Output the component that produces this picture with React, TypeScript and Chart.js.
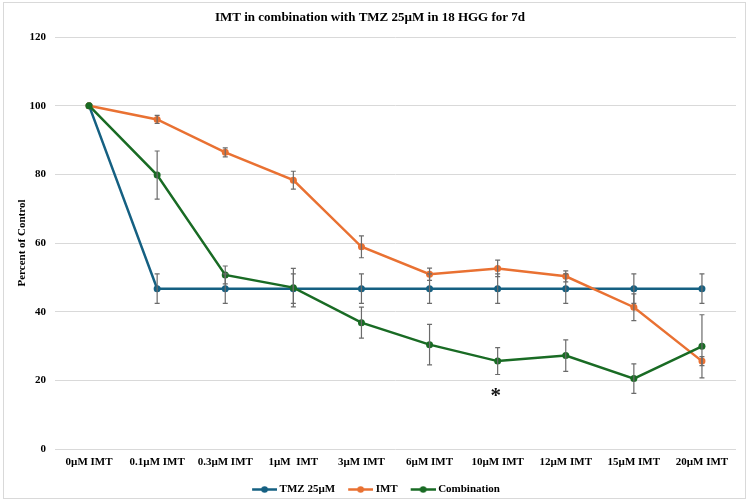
import { useEffect, useRef } from 'react';
import { Chart, registerables } from 'chart.js';

Chart.register(...registerables);

// Treatment concentrations along the x axis
const categories = [
  '0µM IMT',
  '0.1µM IMT',
  '0.3µM IMT',
  '1µM  IMT',
  '3µM IMT',
  '6µM IMT',
  '10µM IMT',
  '12µM IMT',
  '15µM IMT',
  '20µM IMT',
];

// Percent of control, with ± error for each point
const tmzValues = [100, 46.7, 46.7, 46.7, 46.7, 46.7, 46.7, 46.7, 46.7, 46.7];
const tmzErrors = [0, 4.3, 4.3, 4.3, 4.3, 4.3, 4.3, 4.3, 4.3, 4.3];

const imtValues = [100, 96.0, 86.4, 78.3, 58.9, 50.9, 52.6, 50.3, 41.3, 25.6];
const imtErrors = [0, 1.2, 1.3, 2.6, 3.2, 1.8, 2.4, 1.6, 3.9, 1.3];

const comboValues = [100, 79.8, 50.7, 47.0, 36.8, 30.4, 25.6, 27.2, 20.5, 29.9];
const comboErrors = [0, 7.0, 2.6, 5.6, 4.5, 5.9, 3.9, 4.6, 4.3, 9.2];

// Significance marker: category index and the value it sits at
const markerIndex = [6];
const markerValue = [17];

const yTicks = { min: 0, max: 120, step: 20 };

const BLUE = '#156082';
const ORANGE = '#E97132';
const GREEN = '#196B24';
const SERIF = '"Liberation Serif", "Times New Roman", serif';

// Legend key: a short line with a dot, with blank room on the left for item spacing
function legendSwatch(color: string): HTMLCanvasElement {
  const c = document.createElement('canvas');
  c.width = 40;
  c.height = 9;
  const g = c.getContext('2d')!;
  g.strokeStyle = color;
  g.lineWidth = 2.5;
  g.beginPath();
  g.moveTo(15, 4.5);
  g.lineTo(40, 4.5);
  g.stroke();
  g.fillStyle = color;
  g.beginPath();
  g.arc(27.5, 4.5, 3.3, 0, Math.PI * 2);
  g.fill();
  return c;
}

const errorBarsPlugin = {
  id: 'errorBars',
  afterDatasetsDraw(chart: any) {
    const { ctx } = chart;
    const y = chart.scales.y;
    ctx.save();
    ctx.strokeStyle = '#6b6b6b';
    ctx.lineWidth = 1.2;
    chart.data.datasets.forEach((ds: any, i: number) => {
      const errs: number[] | undefined = ds.errors;
      if (!errs) return;
      const meta = chart.getDatasetMeta(i);
      meta.data.forEach((pt: any, j: number) => {
        const e = errs[j];
        if (!e) return;
        const v = ds.data[j] as number;
        const top = y.getPixelForValue(v + e);
        const bot = y.getPixelForValue(v - e);
        const x = pt.x;
        ctx.beginPath();
        ctx.moveTo(x, top);
        ctx.lineTo(x, bot);
        ctx.moveTo(x - 2.5, top);
        ctx.lineTo(x + 2.5, top);
        ctx.moveTo(x - 2.5, bot);
        ctx.lineTo(x + 2.5, bot);
        ctx.stroke();
      });
    });
    ctx.restore();
  },
};

const markerPlugin = {
  id: 'significance',
  afterDatasetsDraw(chart: any) {
    const { ctx } = chart;
    const x = chart.scales.x;
    const y = chart.scales.y;
    ctx.save();
    ctx.fillStyle = '#111';
    ctx.font = `bold 21px ${SERIF}`;
    ctx.textAlign = 'center';
    ctx.textBaseline = 'middle';
    markerIndex.forEach((idx, k) => {
      ctx.fillText('*', x.getPixelForValue(idx) - 2, y.getPixelForValue(markerValue[k]) + 6);
    });
    ctx.restore();
  },
};

export default function App() {
  const canvasRef = useRef<HTMLCanvasElement | null>(null);

  useEffect(() => {
    if (!canvasRef.current) return;
    const swatches = [legendSwatch(BLUE), legendSwatch(ORANGE), legendSwatch(GREEN)];
    const line = (label: string, data: number[], errors: number[], color: string, order: number) => ({
      label,
      data,
      errors,
      order,
      borderColor: color,
      backgroundColor: color,
      borderWidth: 2.5,
      pointRadius: 3.5,
      pointBackgroundColor: color,
      pointBorderColor: color,
      pointBorderWidth: 0,
      tension: 0,
    });

    const chart = new Chart(canvasRef.current, {
      type: 'line',
      data: {
        labels: categories,
        datasets: [
          line('TMZ 25µM', tmzValues, tmzErrors, BLUE, 2),
          line('IMT', imtValues, imtErrors, ORANGE, 1),
          line('Combination', comboValues, comboErrors, GREEN, 0),
        ] as any,
      },
      options: {
        responsive: false,
        animation: false,
        layout: { padding: { left: 4, right: 14, top: 0, bottom: -4 } },
        plugins: {
          title: {
            display: true,
            text: 'IMT in combination with TMZ 25µM in 18 HGG for 7d',
            color: '#000',
            font: { family: SERIF, size: 13, weight: 'bold' },
            padding: { top: 10, bottom: 11.4 },
          },
          legend: {
            position: 'bottom',
            labels: {
              usePointStyle: true,
              pointStyleWidth: 34,
              padding: 1,
              color: '#000',
              font: { family: SERIF, size: 11, weight: 'bold' },
              generateLabels: (c: any) =>
                c.data.datasets.map((ds: any, i: number) => ({
                  text: ds.label,
                  fillStyle: ds.borderColor,
                  strokeStyle: ds.borderColor,
                  pointStyle: swatches[i],
                  lineWidth: 0,
                  hidden: false,
                  datasetIndex: i,
                  fontColor: '#000',
                })),
            },
          },
          tooltip: { enabled: false },
        },
        scales: {
          x: {
            offset: true,
            grid: { display: false, drawTicks: false },
            border: { display: false },
            ticks: {
              color: '#000',
              padding: 7,
              maxRotation: 0,
              autoSkip: false,
              font: { family: SERIF, size: 11, weight: 'bold' },
            },
            afterFit: (s: any) => {
              s.height = 34;
            },
          },
          y: {
            min: yTicks.min,
            max: yTicks.max,
            grid: { color: '#d9d9d9', lineWidth: 1, drawTicks: false },
            border: { display: false },
            ticks: {
              stepSize: yTicks.step,
              color: '#000',
              padding: 9,
              font: { family: SERIF, size: 11, weight: 'bold' },
            },
            title: {
              display: true,
              text: 'Percent of Control',
              color: '#000',
              font: { family: SERIF, size: 11, weight: 'bold' },
              padding: { top: 12, bottom: 0 },
            },
            afterFit: (s: any) => {
              s.width = 51;
            },
          },
        },
      } as any,
      plugins: [errorBarsPlugin, markerPlugin],
    });
    return () => chart.destroy();
  }, []);

  return (
    <div style={{ position: 'fixed', left: 0, top: 0, width: 750, height: 501, background: '#fff' }}>
      <canvas ref={canvasRef} width={750} height={501} style={{ display: 'block' }} />
      <div
        style={{
          position: 'absolute',
          left: 3,
          top: 2,
          width: 743,
          height: 497,
          border: '1px solid #d9d9d9',
          boxSizing: 'border-box',
          pointerEvents: 'none',
        }}
      />
    </div>
  );
}
